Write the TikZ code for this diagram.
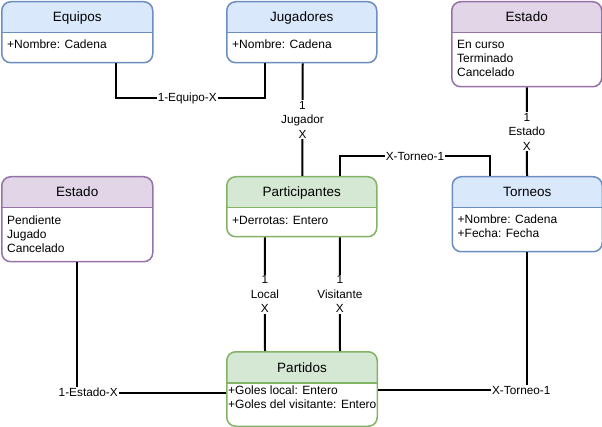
\documentclass[tikz,border=0pt]{standalone}
\usepackage{fontspec}
\setmainfont{Liberation Sans}
\definecolor{bfill}{HTML}{DAE8FC}
\definecolor{bline}{HTML}{6C8EBF}
\definecolor{pfill}{HTML}{E1D5E7}
\definecolor{pline}{HTML}{9673A6}
\definecolor{gfill}{HTML}{D5E8D4}
\definecolor{gline}{HTML}{82B366}
\tikzset{
  entity/.style n args={2}{draw=#2, line width=1.5pt, fill=white, rounded corners=9pt,
    anchor=north west, inner sep=0pt,
    path picture={\fill[#1, sharp corners] (path picture bounding box.north west) rectangle ([yshift=-31pt]path picture bounding box.north east);
      \draw[#2, line width=1.5pt, sharp corners] ([yshift=-31pt]path picture bounding box.north west) -- ([yshift=-31pt]path picture bounding box.north east);}},
  htext/.style={anchor=base, inner sep=0pt, font=\fontsize{13.5}{16}\selectfont},
  atext/.style={anchor=base west, inner sep=0pt, align=left, font=\fontsize{12}{14}\selectfont},
  conn/.style={line width=2pt, black},
  lbl/.style={fill=white, inner sep=1pt, align=center, font=\fontsize{11.8}{14.5}\selectfont},
}
\begin{document}
\begin{tikzpicture}[x=1pt, y=-1pt]
\useasboundingbox (0,0) rectangle (602,427);

% entities (attribute nodes are anchored at the baseline of their last line)
\node[entity={bfill}{bline}, minimum width=151pt, minimum height=61pt] (equipos) at (1,1) {};
\node[htext] (equiposT) at ([yshift=-21pt]equipos.north) {Equipos};
\node[atext] (equiposA) at ([xshift=6pt, yshift=-47.5pt]equipos.north west) {+Nombre: Cadena};

\node[entity={bfill}{bline}, minimum width=150pt, minimum height=61pt] (jugadores) at (226,1) {};
\node[htext] (jugadoresT) at ([yshift=-21pt]jugadores.north) {Jugadores};
\node[atext] (jugadoresA) at ([xshift=6pt, yshift=-47.5pt]jugadores.north west) {+Nombre: Cadena};

\node[entity={pfill}{pline}, minimum width=150pt, minimum height=85pt] (estadoT) at (451,1) {};
\node[htext] (estadoTT) at ([yshift=-21pt]estadoT.north) {Estado};
\node[atext] (estadoTA) at ([xshift=6pt, yshift=-75.5pt]estadoT.north west) {En curso\\Terminado\\Cancelado};

\node[entity={pfill}{pline}, minimum width=151pt, minimum height=85pt] (estadoP) at (1,176) {};
\node[htext] (estadoPT) at ([yshift=-21pt]estadoP.north) {Estado};
\node[atext] (estadoPA) at ([xshift=6pt, yshift=-76.5pt]estadoP.north west) {Pendiente\\Jugado\\Cancelado};

\node[entity={gfill}{gline}, minimum width=150pt, minimum height=60pt] (participantes) at (226,176) {};
\node[htext] (participantesT) at ([yshift=-21pt]participantes.north) {Participantes};
\node[atext] (participantesA) at ([xshift=6pt, yshift=-48.5pt]participantes.north west) {+Derrotas: Entero};

\node[entity={bfill}{bline}, minimum width=150pt, minimum height=75pt] (torneos) at (451.5,176) {};
\node[htext] (torneosT) at ([yshift=-21pt]torneos.north) {Torneos};
\node[atext] (torneosA) at ([xshift=6pt, yshift=-61.5pt]torneos.north west) {+Nombre: Cadena\\+Fecha: Fecha};

\node[entity={gfill}{gline}, minimum width=150.5pt, minimum height=74.5pt] (partidos) at (226,351) {};
\node[htext] (partidosT) at ([yshift=-21pt]partidos.north) {Partidos};
\node[atext] (partidosA) at ([xshift=2pt, yshift=-57.5pt]partidos.north west) {+Goles local: Entero\\+Goles del visitante: Entero};

% connectors
\draw[conn] ([xshift=38.5pt]equipos.south) -- ++(0,34.7) -| ([xshift=-37pt]jugadores.south)
  node[lbl, pos=0.24] (l1) {1-Equipo-X};
\draw[conn] ([xshift=1pt]jugadores.south) -- ([xshift=0.5pt]participantes.north)
  node[lbl, midway] (l2) {1\\Jugador\\X};
\draw[conn] ([xshift=38pt]participantes.north) -- ++(0,-19.5) -| ([xshift=-37pt]torneos.north)
  node[lbl, pos=0.25] (l3) {X-Torneo-1};
\draw[conn] (estadoT.south) -- ([xshift=-0.25pt]torneos.north)
  node[lbl, midway] (l4) {1\\Estado\\X};
\draw[conn] ([xshift=-37pt]participantes.south) -- ([xshift=-37pt]partidos.north)
  node[lbl, midway] (l5) {1\\Local\\X};
\draw[conn] ([xshift=38pt]participantes.south) -- ([xshift=38pt]partidos.north)
  node[lbl, midway] (l6) {1\\Visitante\\X};
\draw[conn] (estadoP.south) |- ([yshift=-3.5pt]partidos.west)
  node[lbl, pos=0.537] (l7) {1-Estado-X};
\draw[conn] (torneos.south) |- ([yshift=-1.3pt]partidos.east)
  node[lbl, pos=0.52] (l8) {X-Torneo-1};
\end{tikzpicture}
\end{document}
